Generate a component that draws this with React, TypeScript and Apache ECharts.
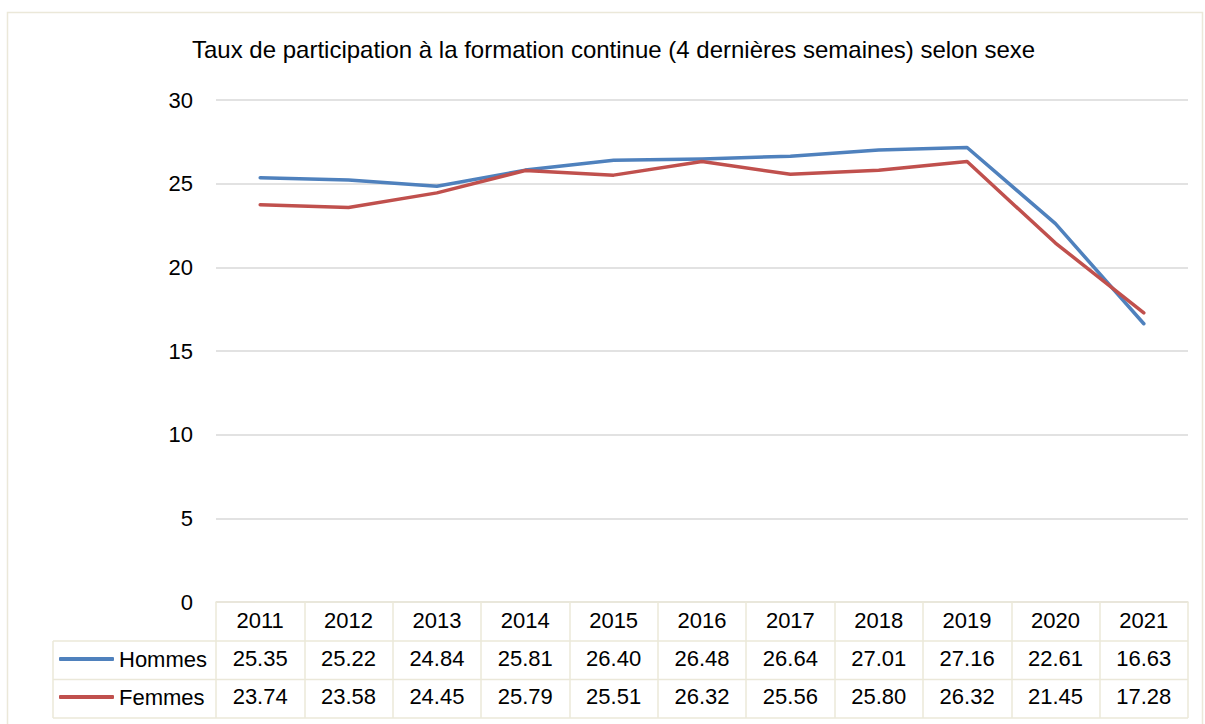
import React, { useEffect, useRef } from "react";
import * as echarts from "echarts";

const years = ["2011", "2012", "2013", "2014", "2015", "2016", "2017", "2018", "2019", "2020", "2021"];
const hommes = [25.35, 25.22, 24.84, 25.81, 26.4, 26.48, 26.64, 27.01, 27.16, 22.61, 16.63];
const femmes = [23.74, 23.58, 24.45, 25.79, 25.51, 26.32, 25.56, 25.8, 26.32, 21.45, 17.28];
const seriesNames = ["Hommes", "Femmes"];
const colors = ["#4f81bd", "#c0504d"];
const titleText = "Taux de participation à la formation continue (4 dernières semaines) selon sexe";

const FONT = "'Liberation Sans', Arial, sans-serif";
const BORDER = "#ebe8d9";

export default function App() {
  const ref = useRef<HTMLDivElement>(null);
  useEffect(() => {
    if (!ref.current) return;
    const chart = echarts.init(ref.current, undefined, { renderer: "svg" });
    const gridLeft = 216;
    const gridRight = 1188;
    const option: any = {
      animation: false,
      backgroundColor: "#ffffff",
      textStyle: { fontFamily: FONT },
      title: {
        text: titleText,
        left: 192,
        top: 37,
        padding: 0,
        textStyle: { fontFamily: FONT, fontSize: 24, fontWeight: "normal", color: "#000" },
      },
      legend: seriesNames.map((n, i) => ({
        data: [n],
        left: 59,
        top: 648 + i * 38,
        padding: 0,
        icon: "roundRect",
        itemWidth: 55,
        itemHeight: 4,
        textStyle: { fontFamily: FONT, fontSize: 22, color: "#000", lineHeight: 22 },
        selectedMode: false,
      })),
      grid: { left: gridLeft, right: 1205 - gridRight, top: 100, bottom: 724 - 602, containLabel: false },
      xAxis: {
        type: "category",
        data: years,
        boundaryGap: true,
        axisLine: { show: true, lineStyle: { color: BORDER, width: 1.5 } },
        axisTick: { show: true, interval: 0, length: 116, lineStyle: { color: BORDER, width: 1.5 } },
        axisLabel: {
          interval: 0,
          margin: -1,
          fontFamily: FONT,
          fontSize: 22,
          lineHeight: 38,
          color: "#000",
          verticalAlign: "top",
          formatter: (v: string, i: number) =>
            `${v}\n${hommes[i].toFixed(2)}\n${femmes[i].toFixed(2)}`,
        },
        splitLine: { show: false },
      },
      yAxis: {
        type: "value",
        min: 0,
        max: 30,
        interval: 5,
        axisLine: { show: false },
        axisTick: { show: false },
        axisLabel: { fontFamily: FONT, fontSize: 22, color: "#000", margin: 23, padding: [13, 0, 0, 0] },
        splitLine: { lineStyle: { color: "#d9d9d9", width: 1.5 } },
      },
      graphic: [
        {
          type: "rect",
          shape: { x: 7.5, y: 12.5, width: 1195, height: 730 },
          style: { fill: "none", stroke: BORDER, lineWidth: 1.5 },
          silent: true,
        },
        ...[641, 679.5, 718].map((y) => ({
          type: "line",
          shape: { x1: 53, y1: y, x2: gridRight, y2: y },
          style: { stroke: BORDER, lineWidth: 1.5 },
          silent: true,
        })),
        {
          type: "line",
          shape: { x1: 53, y1: 641, x2: 53, y2: 718 },
          style: { stroke: BORDER, lineWidth: 1.5 },
          silent: true,
        },
      ],
      series: [hommes, femmes].map((d, i) => ({
        name: seriesNames[i],
        type: "line",
        data: d,
        showSymbol: false,
        symbol: "none",
        color: colors[i],
        lineStyle: { width: 3.5, color: colors[i], cap: "round", join: "round" },
        itemStyle: { color: colors[i] },
      })),
    };
    chart.setOption(option);
    return () => chart.dispose();
  }, []);
  return (
    <div
      ref={ref}
      style={{ position: "fixed", left: 0, top: 0, width: 1205, height: 724 }}
    />
  );
}
